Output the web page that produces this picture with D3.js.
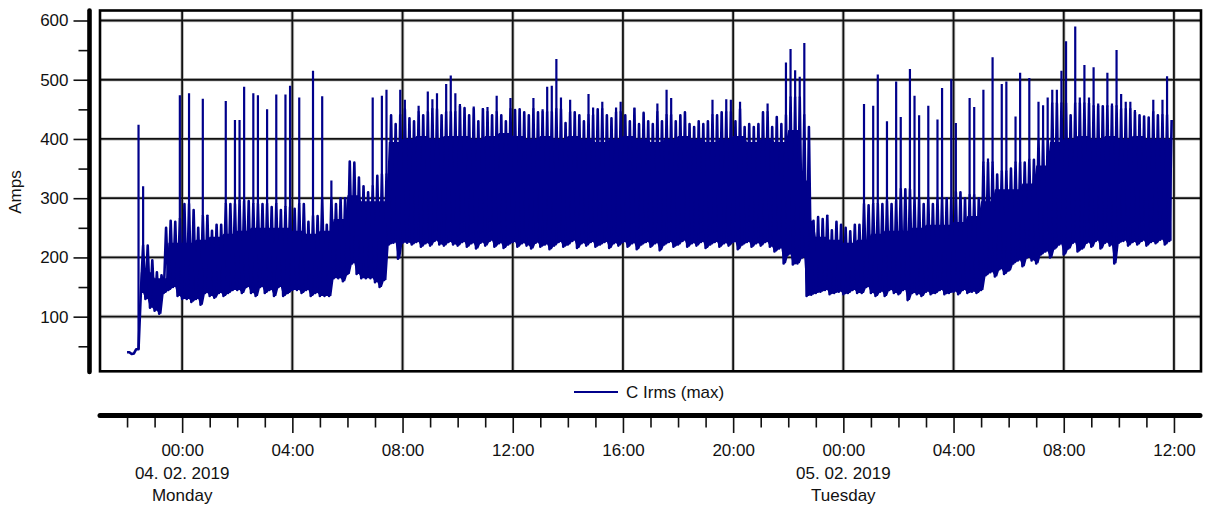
<!DOCTYPE html>
<html>
<head>
<meta charset="utf-8">
<script src="https://cdn.jsdelivr.net/npm/d3@7"></script>
<style>
  body { margin: 0; background: #fff; }
  text { font-family: "Liberation Sans", Arial, sans-serif; fill: #111; }
</style>
</head>
<body>
<svg id="chart" width="1213" height="509"></svg>
<script>
// C Irms (max), one reading pair per 10 minutes starting 03.02.2019 22:00
// each row = one hour (6 slots). upper = peak of the slot, lower = trough
var upperNight = [
  40, 38, 424, 320, 220, 195,      // 22:00
  175, 170, 250, 262, 260, 474,    // 23:00
  290, 477, 280, 250, 468, 272,    // 00:00
  245, 255, 255, 464, 290, 432,    // 01:00
  432, 488, 295, 477, 474, 290,    // 02:00
  450, 285, 475, 280, 475, 490,    // 03:00
  282, 470, 290, 260, 515, 270,    // 04:00
  472, 255, 330, 290, 300, 300,    // 05:00
  362, 360, 335, 320, 310, 470,    // 06:00
  338, 473, 483, 440, 425, 483,    // 07:00
  466, 435, 430, 456, 440, 480,    // 08:00
  467, 477, 440, 493, 507, 477     // 09:00
];
var lowerNight = [
  40, 37, 45, 140, 130, 115,
  110, 105, 140, 145, 150, 135,
  130, 130, 125, 130, 120, 140,
  135, 132, 140, 135, 140, 145,
  145, 140, 150, 140, 135, 150,
  140, 145, 135, 150, 135, 140,
  145, 145, 140, 145, 135, 140,
  135, 135, 135, 165, 165, 160,
  172, 190, 172, 165, 165, 165,
  158, 150, 162, 222, 225, 198,
  225, 225, 222, 226, 218, 224,
  220, 228, 222, 220, 226, 222
];
var upperDay = [
  459, 452, 440, 455, 430, 452,    // 10:00
  454, 440, 473, 440, 430, 469,    // 11:00
  449, 450, 445, 440, 469, 445,    // 12:00
  450, 488, 490, 535, 470, 427,    // 13:00
  466, 445, 440, 430, 476, 453,    // 14:00
  450, 463, 440, 435, 453, 463,    // 15:00
  440, 430, 453, 425, 444, 430,    // 16:00
  425, 460, 430, 483, 469, 430,    // 17:00
  440, 445, 425, 420, 430, 425,    // 18:00
  430, 466, 440, 445, 467, 466,    // 19:00
  430, 463, 420, 425, 420, 425,    // 20:00
  446, 460, 420, 437, 425, 529     // 21:00
];
var lowerDay = [
  220, 226, 218, 224, 215, 225,
  220, 228, 218, 224, 216, 222,
  226, 218, 224, 220, 215, 225,
  218, 222, 214, 220, 226, 218,
  222, 228, 216, 224, 220, 226,
  218, 222, 226, 216, 224, 220,
  226, 218, 224, 214, 222, 226,
  218, 224, 212, 222, 226, 218,
  222, 228, 218, 224, 220, 226,
  216, 222, 226, 218, 224, 220,
  226, 214, 222, 226, 218, 224,
  220, 226, 218, 210, 215, 190
];
var upperNext = [
  552, 516, 505, 562, 420, 262,    // 22:00
  268, 265, 272, 246, 260, 255,    // 23:00
  250, 244, 255, 255, 459, 288,    // 00:00
  456, 509, 290, 430, 290, 497,    // 01:00
  437, 315, 518, 473, 440, 290,    // 02:00
  456, 290, 433, 486, 300, 501,    // 03:00
  427, 310, 300, 469, 454, 300,    // 04:00
  483, 367, 538, 340, 493, 497,    // 05:00
  350, 438, 512, 360, 503, 365,    // 06:00
  463, 457, 470, 483, 483, 515,    // 07:00
  565, 440, 590, 470, 525, 470,    // 08:00
  521, 460, 455, 512, 460, 550,    // 09:00
  476, 463, 463, 449, 440, 438,    // 10:00
  436, 466, 440, 466, 506, 432     // 11:00
];
var lowerNext = [
  205, 188, 190, 200, 135, 137,
  140, 142, 145, 138, 140, 142,
  138, 140, 145, 140, 140, 150,
  140, 135, 142, 135, 145, 140,
  138, 145, 128, 140, 138, 135,
  142, 138, 140, 145, 138, 140,
  142, 138, 145, 140, 142, 140,
  145, 170, 175, 168, 180, 172,
  178, 190, 195, 185, 200, 195,
  190, 205, 210, 200, 215, 222,
  205, 215, 225, 210, 215, 225,
  218, 228, 215, 225, 220, 190,
  225, 228, 220, 226, 222, 228,
  220, 226, 224, 230, 222, 228
];
// usual top of the band (without the isolated peaks), per half hour
var reachNight = [40, 220, 250, 265, 290, 270, 260, 290, 295, 290,
  290, 285, 290, 270, 300, 300, 362, 320, 340, 440];
var reachDay = [450, 445, 450, 445, 455, 450, 445, 450, 455, 450,
  445, 450, 445, 440, 450, 445, 450, 455, 445, 440,
  445, 450, 440, 445, 450, 440, 445, 440, 470, 440];
var reachNext = [270, 260, 255, 290, 290, 295, 315, 300, 300, 300,
  310, 305, 360, 345, 360, 365, 400, 460, 460, 460,
  455, 455, 450, 445, 445, 440];
// top of the fully solid part of the band, per half hour
var solidNight = [40, 175, 165, 225, 225, 230, 235, 240, 245, 250,
  250, 250, 245, 240, 245, 265, 305, 295, 295, 395];
var solidDay = [400, 405, 400, 405, 405, 400, 405, 410, 405, 400,
  405, 400, 405, 400, 395, 400, 405, 400, 395, 400,
  405, 400, 395, 400, 405, 395, 400, 395, 415, 330];
var solidNext = [235, 230, 225, 230, 240, 245, 245, 250, 255, 255,
  260, 270, 295, 315, 315, 325, 355, 395, 400, 405,
  400, 405, 400, 405, 400, 400];

var yTicks = [100, 200, 300, 400, 500, 600];
var yMinor = [50, 150, 250, 350, 450, 550];
var seriesName = "C Irms (max)";

var upper = upperNight.concat(upperDay, upperNext);
var lower = lowerNight.concat(lowerDay, lowerNext);
var reach = reachNight.concat(reachDay, reachNext);
var solid = solidNight.concat(solidDay, solidNext);
var firstSlot = new Date(2019, 1, 3, 22, 0);

var slots = upper.map(function (u, i) {
  var t = d3.timeMinute.offset(firstSlot, i * 10);
  var h = Math.floor(i / 3);
  var body = Math.max(lower[i], Math.min(reach[h], u));
  return {
    t0: t,
    t1: d3.timeMinute.offset(t, 5),
    hi: u,
    lo: lower[i],
    body: body,
    core: Math.max(lower[i], Math.min(solid[h], body))
  };
});
// trough at the slot start, body top 5 minutes later
var zigzag = [];
var core = [];
slots.forEach(function (d) {
  zigzag.push({ t: d.t0, v: d.lo });
  zigzag.push({ t: d.t1, v: d.body });
  core.push({ t: d.t0, lo: d.lo, hi: d.core });
  core.push({ t: d.t1, lo: d.lo, hi: d.core });
});

var svg = d3.select("#chart");
var navy = "#00008b";

var x = d3.scaleTime()
  .domain([new Date(2019, 1, 3, 21), new Date(2019, 1, 5, 13)])
  .range([99.5, 1201.5]);
var y = d3.scaleLinear().domain([0, 600]).range([375.9, 20.5]);

var plotTop = 10.5, plotBottom = 371.3;

svg.append("defs").append("clipPath").attr("id", "clip")
  .append("rect").attr("x", 100).attr("y", plotTop).attr("width", 1101).attr("height", plotBottom - plotTop);

// grid
var majorHours = d3.timeHour.every(4).range(new Date(2019, 1, 4, 0), new Date(2019, 1, 5, 12, 1));
var grid = svg.append("g");
[["#c8c8c8", 3.6], ["#111", 1.8]].forEach(function (s) {
  grid.selectAll(null).data(yTicks).enter().append("line")
    .attr("x1", 100).attr("x2", 1201)
    .attr("y1", function (d) { return y(d); }).attr("y2", function (d) { return y(d); })
    .attr("stroke", s[0]).attr("stroke-width", s[1]);
  grid.selectAll(null).data(majorHours).enter().append("line")
    .attr("x1", function (d) { return x(d); }).attr("x2", function (d) { return x(d); })
    .attr("y1", plotTop).attr("y2", plotBottom)
    .attr("stroke", s[0]).attr("stroke-width", s[1]);
});

// series
var series = svg.append("g").attr("clip-path", "url(#clip)");

series.append("path")
  .datum(core)
  .attr("fill", navy)
  .attr("d", d3.area()
    .x(function (d) { return x(d.t); })
    .y0(function (d) { return y(d.lo); })
    .y1(function (d) { return y(d.hi); }));

series.append("path")
  .datum(zigzag)
  .attr("fill", "none")
  .attr("stroke", navy)
  .attr("stroke-width", 2.6)
  .attr("stroke-linejoin", "round")
  .attr("d", d3.line()
    .x(function (d) { return x(d.t); })
    .y(function (d) { return y(d.v); }));

series.selectAll(".peak")
  .data(slots.filter(function (d) { return d.hi > d.body; }))
  .enter().append("line")
  .attr("class", "peak")
  .attr("x1", function (d) { return x(d.t1); })
  .attr("x2", function (d) { return x(d.t1); })
  .attr("y1", function (d) { return y(d.body); })
  .attr("y2", function (d) { return y(d.hi); })
  .attr("stroke", navy)
  .attr("stroke-width", 2.2);

// frame
svg.append("rect")
  .attr("x", 100).attr("y", plotTop).attr("width", 1101).attr("height", plotBottom - plotTop)
  .attr("fill", "none").attr("stroke", "#000").attr("stroke-width", 2.6);

// y axis
var yAxis = svg.append("g").attr("transform", "translate(89.5,0)")
  .call(d3.axisLeft(y).tickValues(yTicks).tickSize(16).tickPadding(5));
yAxis.select(".domain").remove();
yAxis.selectAll(".tick line").attr("stroke", "#111").attr("stroke-width", 1.6);
yAxis.selectAll(".tick text").attr("font-size", 17).attr("font-family", "Liberation Sans, Arial, sans-serif").attr("fill", "#111");

var yMinorAxis = svg.append("g").attr("transform", "translate(89.5,0)")
  .call(d3.axisLeft(y).tickValues(yMinor).tickSize(11).tickFormat(""));
yMinorAxis.select(".domain").remove();
yMinorAxis.selectAll(".tick line").attr("stroke", "#111").attr("stroke-width", 1.6);

svg.append("line")
  .attr("x1", 89.5).attr("x2", 89.5).attr("y1", 10.5).attr("y2", 372)
  .attr("stroke", "#000").attr("stroke-width", 4.6).attr("stroke-linecap", "round");

svg.append("text")
  .attr("transform", "translate(21,192) rotate(-90)")
  .attr("text-anchor", "middle")
  .attr("font-size", 17)
  .text("Amps");

// legend
svg.append("line")
  .attr("x1", 574).attr("x2", 618).attr("y1", 392).attr("y2", 392)
  .attr("stroke", navy).attr("stroke-width", 2);
svg.append("text").attr("x", 626).attr("y", 397.5).attr("font-size", 17).text(seriesName);

// time axis
var hours = d3.timeHour.range(new Date(2019, 1, 3, 22), new Date(2019, 1, 5, 12, 1));
var isMajor = function (d) { return d.getHours() % 4 === 0; };

var xAxis = svg.append("g").attr("transform", "translate(0,418)")
  .call(d3.axisBottom(x).tickValues(hours).tickSize(15)
    .tickFormat(function (d) { return isMajor(d) ? d3.timeFormat("%H:%M")(d) : ""; }));
xAxis.select(".domain").remove();
xAxis.selectAll(".tick line")
  .attr("stroke", "#111").attr("stroke-width", 1.6)
  .attr("y2", function (d) { return isMajor(d) ? 15 : 9.5; });
xAxis.selectAll(".tick text")
  .attr("y", 37.5).attr("dy", null)
  .attr("font-size", 17).attr("font-family", "Liberation Sans, Arial, sans-serif").attr("fill", "#111");

svg.append("line")
  .attr("x1", 100).attr("x2", 1200).attr("y1", 415.5).attr("y2", 415.5)
  .attr("stroke", "#000").attr("stroke-width", 5).attr("stroke-linecap", "round");

var midnights = hours.filter(function (d) { return d.getHours() === 0; });
var dayLabels = svg.append("g").selectAll("g").data(midnights).enter().append("g");
dayLabels.append("text")
  .attr("x", function (d) { return x(d); }).attr("y", 478.5)
  .attr("text-anchor", "middle").attr("font-size", 17)
  .text(d3.timeFormat("%d. %m. %Y"));
dayLabels.append("text")
  .attr("x", function (d) { return x(d); }).attr("y", 501)
  .attr("text-anchor", "middle").attr("font-size", 17)
  .text(d3.timeFormat("%A"));
</script>
</body>
</html>
